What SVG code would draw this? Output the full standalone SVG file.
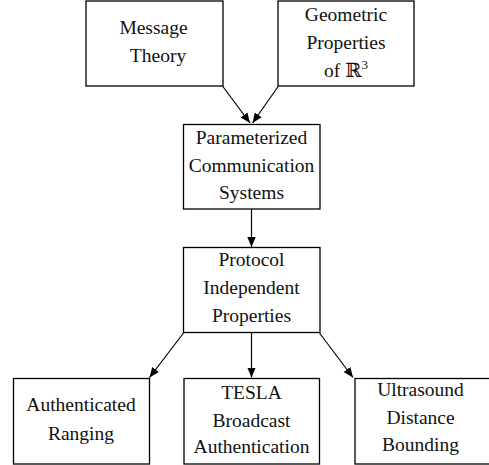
<svg xmlns="http://www.w3.org/2000/svg" width="489" height="465" viewBox="0 0 489 465">
<style>
rect{fill:#fff;stroke:#000;stroke-width:1.3}
text{font-family:"Liberation Serif","DejaVu Serif",serif;font-size:19.5px;fill:#111;text-anchor:middle}
.c line{stroke:#000;stroke-width:1.2}
</style>
<defs>
<marker id="ah" viewBox="0 0 10 10" refX="10" refY="5" markerWidth="10" markerHeight="10" markerUnits="userSpaceOnUse" orient="auto">
<path d="M0,0.8 L10,5 L0,9.2 Z" fill="#000"/>
</marker>
</defs>
<g class="c" id="connectors">
<line x1="222.5" y1="86" x2="250" y2="123" marker-end="url(#ah)"/>
<line x1="278.5" y1="86" x2="252.5" y2="123" marker-end="url(#ah)"/>
<line x1="251.5" y1="209" x2="251.5" y2="247" marker-end="url(#ah)"/>
<line x1="183.5" y1="333" x2="149.5" y2="377.5" marker-end="url(#ah)"/>
<line x1="251.5" y1="333" x2="251.5" y2="377.5" marker-end="url(#ah)"/>
<line x1="319.5" y1="333" x2="353" y2="377.5" marker-end="url(#ah)"/>
</g>
<g id="message-theory">
<rect x="86" y="1" width="137" height="85"/>
<text x="153.5" y="34">Message</text>
<text x="158" y="61.5">Theory</text>
</g>
<g id="geometric">
<rect x="278" y="1" width="136" height="85"/>
<text x="346" y="21">Geometric</text>
<text x="346" y="48.5">Properties</text>
<text x="346" y="76.5">of ℝ<tspan font-size="13px" dy="-8">3</tspan></text>
</g>
<g id="parameterized">
<rect x="183.5" y="124.5" width="136.5" height="84.5"/>
<text x="251.5" y="143.5">Parameterized</text>
<text x="251.5" y="172">Communication</text>
<text x="251.5" y="198.5">Systems</text>
</g>
<g id="protocol">
<rect x="183.5" y="247.5" width="136.5" height="85"/>
<text x="251.5" y="266">Protocol</text>
<text x="251.5" y="294">Independent</text>
<text x="251.5" y="321.5">Properties</text>
</g>
<g id="auth-ranging">
<rect x="13.5" y="378.5" width="136" height="85.5"/>
<text x="81" y="411">Authenticated</text>
<text x="81" y="440">Ranging</text>
</g>
<g id="tesla">
<rect x="184" y="378.5" width="135.5" height="85.5"/>
<text x="251.5" y="399">TESLA</text>
<text x="251.5" y="426.5">Broadcast</text>
<text x="251.5" y="453">Authentication</text>
</g>
<g id="ultrasound">
<rect x="355" y="378.5" width="137" height="85.5"/>
<text x="420.5" y="396">Ultrasound</text>
<text x="420.5" y="424">Distance</text>
<text x="420.5" y="450.5">Bounding</text>
</g>
</svg>
